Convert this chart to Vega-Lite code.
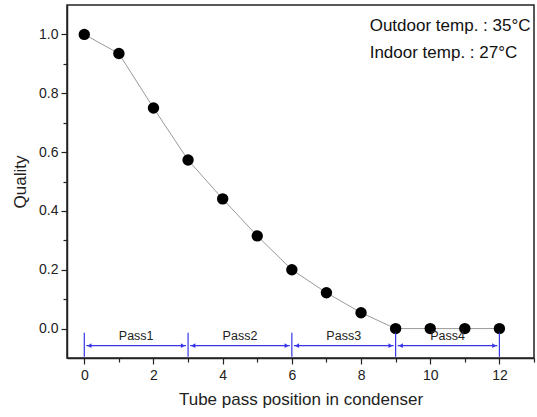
{
  "$schema": "https://vega.github.io/schema/vega-lite/v6.json",
  "width": 467,
  "height": 353,
  "autosize": "none",
  "padding": {"left": 67, "top": 5, "right": 3, "bottom": 59},
  "background": "white",
  "config": {
    "font": "Liberation Sans",
    "view": {"stroke": "#222", "strokeWidth": 1.5},
    "axis": {
      "domainColor": "#222", "domainWidth": 1.5,
      "tickColor": "#222", "tickWidth": 1.2,
      "labelColor": "#222", "labelFont": "Liberation Sans", "labelFontSize": 14,
      "titleColor": "#222", "titleFont": "Liberation Sans", "titleFontSize": 17, "titleFontWeight": "normal",
      "grid": false
    }
  },
  "datasets": {
    "main": [
      {"pos": 0, "q": 1.0}, {"pos": 1, "q": 0.935}, {"pos": 2, "q": 0.75},
      {"pos": 3, "q": 0.573}, {"pos": 4, "q": 0.441}, {"pos": 5, "q": 0.315},
      {"pos": 6, "q": 0.2}, {"pos": 7, "q": 0.122}, {"pos": 8, "q": 0.054},
      {"pos": 9, "q": 0.0}, {"pos": 10, "q": 0.0}, {"pos": 11, "q": 0.0}, {"pos": 12, "q": 0.0}
    ],
    "notes": [
      {"x": 8.25, "y": 1.03, "label": "Outdoor temp. : 35°C"},
      {"x": 8.25, "y": 0.938, "label": "Indoor temp. : 27°C"}
    ],
    "bounds": [{"b": 0}, {"b": 3}, {"b": 6}, {"b": 9}, {"b": 12}],
    "passes": [
      {"name": "Pass1", "start": 0, "end": 3, "mid": 1.5, "a0": 0.06, "a1": 2.94, "h0": 0.15, "h1": 2.85},
      {"name": "Pass2", "start": 3, "end": 6, "mid": 4.5, "a0": 3.06, "a1": 5.94, "h0": 3.15, "h1": 5.85},
      {"name": "Pass3", "start": 6, "end": 9, "mid": 7.5, "a0": 6.06, "a1": 8.94, "h0": 6.15, "h1": 8.85},
      {"name": "Pass4", "start": 9, "end": 12, "mid": 10.5, "a0": 9.06, "a1": 11.94, "h0": 9.15, "h1": 11.85}
    ]
  },
  "resolve": {"axis": {"x": "independent", "y": "independent"}},
  "layer": [
    {
      "data": {"name": "main"},
      "mark": {"type": "line", "color": "#9a9a9a", "strokeWidth": 1},
      "encoding": {
        "x": {"field": "pos", "type": "quantitative",
              "scale": {"domain": [-0.5, 13], "nice": false, "zero": false},
              "axis": {"orient": "bottom", "values": [0, 2, 4, 6, 8, 10, 12], "tickSize": 6, "labelPadding": 4,
                       "title": "Tube pass position in condenser", "titlePadding": 9, "labelFlush": false}},
        "y": {"field": "q", "type": "quantitative",
              "scale": {"domain": [-0.1, 1.1], "nice": false, "zero": false},
              "axis": {"orient": "left", "values": [0, 0.2, 0.4, 0.6, 0.8, 1.0], "format": ".1f", "tickSize": 6, "labelPadding": 3,
                       "title": "Quality", "titlePadding": 9}}
      }
    },
    {
      "data": {"name": "main"},
      "mark": {"type": "point", "filled": true, "color": "#000", "opacity": 1, "size": 130},
      "encoding": {
        "x": {"field": "pos", "type": "quantitative",
              "axis": {"orient": "bottom", "values": [1, 3, 5, 7, 9, 11, 13], "labels": false, "domain": false, "tickSize": 4, "title": null}},
        "y": {"field": "q", "type": "quantitative",
              "axis": {"orient": "left", "values": [0.1, 0.3, 0.5, 0.7, 0.9], "labels": false, "domain": false, "tickSize": 4, "title": null}}
      }
    },
    {
      "data": {"name": "notes"},
      "mark": {"type": "text", "align": "left", "baseline": "middle", "fontSize": 17, "color": "#111"},
      "encoding": {
        "x": {"field": "x", "type": "quantitative", "axis": null},
        "y": {"field": "y", "type": "quantitative", "axis": null},
        "text": {"field": "label"}
      }
    },
    {
      "data": {"name": "bounds"},
      "mark": {"type": "rule", "color": "#3535e6", "strokeWidth": 1.2},
      "encoding": {
        "x": {"field": "b", "type": "quantitative", "axis": null},
        "y": {"datum": -0.014, "type": "quantitative", "axis": null},
        "y2": {"datum": -0.096}
      }
    },
    {
      "data": {"name": "passes"},
      "mark": {"type": "rule", "color": "#3535e6", "strokeWidth": 1.2},
      "encoding": {
        "x": {"field": "a0", "type": "quantitative", "axis": null},
        "x2": {"field": "a1"},
        "y": {"datum": -0.058, "type": "quantitative", "axis": null}
      }
    },
    {
      "data": {"name": "passes"},
      "mark": {"type": "point", "shape": "triangle-left", "filled": true, "color": "#3535e6", "opacity": 1, "size": 22},
      "encoding": {
        "x": {"field": "h0", "type": "quantitative", "axis": null},
        "y": {"datum": -0.058, "type": "quantitative", "axis": null}
      }
    },
    {
      "data": {"name": "passes"},
      "mark": {"type": "point", "shape": "triangle-right", "filled": true, "color": "#3535e6", "opacity": 1, "size": 22},
      "encoding": {
        "x": {"field": "h1", "type": "quantitative", "axis": null},
        "y": {"datum": -0.058, "type": "quantitative", "axis": null}
      }
    },
    {
      "data": {"name": "passes"},
      "mark": {"type": "text", "align": "center", "baseline": "middle", "fontSize": 12.5, "color": "#222"},
      "encoding": {
        "x": {"field": "mid", "type": "quantitative", "axis": null},
        "y": {"datum": -0.026, "type": "quantitative", "axis": null},
        "text": {"field": "name"}
      }
    }
  ]
}
